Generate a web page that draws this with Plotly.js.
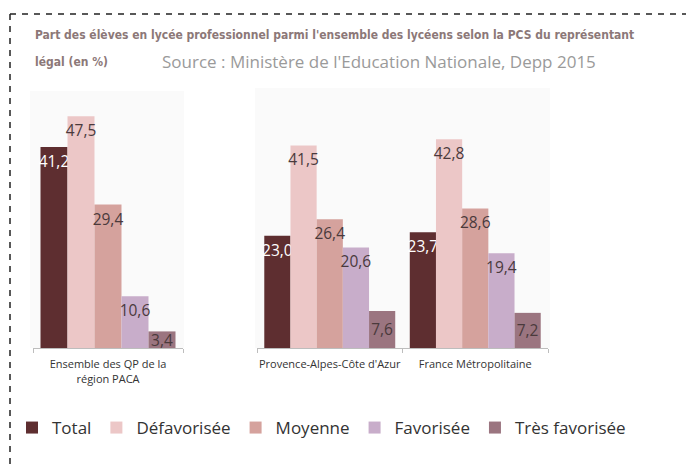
<!DOCTYPE html>
<html>
<head>
<meta charset="utf-8">
<script src="https://cdn.plot.ly/plotly-3.0.1.min.js"></script>
<style>
html,body{margin:0;padding:0;background:#fff;}
#chart{width:686px;height:469px;}
</style>
</head>
<body>
<div id="chart"></div>
<script>
// ---- data ----
const categoriesLeft = ["Ensemble des QP de la<br>région PACA"];
const categoriesRight = ["Provence-Alpes-Côte d'Azur", "France Métropolitaine"];
const seriesNames = ["Total", "Défavorisée", "Moyenne", "Favorisée", "Très favorisée"];
const totalVals = [41.2, 23.0, 23.7];
const defavoriseeVals = [47.5, 41.5, 42.8];
const moyenneVals = [29.4, 26.4, 28.6];
const favoriseeVals = [10.6, 20.6, 19.4];
const tresFavoriseeVals = [3.4, 7.6, 7.2];
const titleLine1 = "Part des élèves en lycée professionnel parmi l'ensemble des lycéens selon la PCS du représentant";
const titleLine2 = "légal (en %)";
const sourceText = "Source : Ministère de l'Education Nationale, Depp 2015";

// ---- styles ----
const colors = ["#5e2e30", "#ecc7c7", "#d5a29d", "#c8adca", "#9b7580"];
const labelColors = ["#ffffff", "#4a3a3c", "#4a3a3c", "#4a3a3c", "#4a3a3c"];
const labelAnchors = ["end", "end", "end", "end", "middle"];
const allVals = [totalVals, defavoriseeVals, moyenneVals, favoriseeVals, tresFavoriseeVals];
const fmt = v => v.toFixed(1).replace('.', ',');

const W = 686, plotTop = 88, plotBottom = 348, plotH = plotBottom - plotTop;
const px = x => x / W;
const py = y => (plotBottom - y) / plotH;

const traces = [];
seriesNames.forEach((name, i) => {
  const leftY = [allVals[i][0]];
  const rightY = allVals[i].slice(1);
  const common = {
    type: 'bar', name: name, legendgroup: name,
    marker: {color: colors[i]},
    textposition: 'inside', insidetextanchor: labelAnchors[i], textangle: 0,
    constraintext: 'none', cliponaxis: false,
    textfont: {family: 'Open Sans', size: 15.5, color: labelColors[i]},
    hoverinfo: 'skip'
  };
  traces.push(Object.assign({}, common, {
    x: categoriesLeft, y: leftY, text: leftY.map(fmt),
    xaxis: 'x', yaxis: 'y', showlegend: true
  }));
  traces.push(Object.assign({}, common, {
    x: categoriesRight, y: rightY, text: rightY.map(fmt),
    xaxis: 'x2', yaxis: 'y2', showlegend: false
  }));
});

const xaxisStyle = {
  type: 'category', showgrid: false, zeroline: false,
  showline: true, linecolor: '#bdbdbd', linewidth: 1,
  ticks: 'outside', tickson: 'boundaries', ticklen: 4, tickcolor: '#bdbdbd',
  tickangle: 0, automargin: false, ticklabelstandoff: 6,
  tickfont: {family: 'Open Sans', size: 11, color: '#333'}, fixedrange: true
};
const yaxisStyle = {visible: false, range: [0, plotH / 4.88], fixedrange: true};

const layout = {
  width: 686, height: 469,
  margin: {l: 0, r: 0, t: plotTop, b: 469 - plotBottom},
  paper_bgcolor: '#ffffff', plot_bgcolor: 'rgba(0,0,0,0)',
  barmode: 'group', bargap: 0.1, bargroupgap: 0,
  xaxis: Object.assign({}, xaxisStyle, {domain: [px(33), px(183)], anchor: 'y'}),
  yaxis: Object.assign({}, yaxisStyle, {anchor: 'x'}),
  xaxis2: Object.assign({}, xaxisStyle, {domain: [px(257), px(548)], anchor: 'y2'}),
  yaxis2: Object.assign({}, yaxisStyle, {anchor: 'x2'}),
  showlegend: true,
  legend: {
    orientation: 'h', x: px(12), xanchor: 'left', y: py(428), yanchor: 'middle',
    font: {family: 'Open Sans', size: 17, color: '#333'},
    traceorder: 'normal', bgcolor: 'rgba(0,0,0,0)'
  },
  shapes: [
    {type: 'rect', xref: 'paper', yref: 'paper', x0: px(30), x1: px(184), y0: 0, y1: py(91),
     fillcolor: '#fafafa', line: {width: 0}, layer: 'below'},
    {type: 'rect', xref: 'paper', yref: 'paper', x0: px(255), x1: px(550), y0: 0, y1: py(88),
     fillcolor: '#fafafa', line: {width: 0}, layer: 'below'},
    {type: 'line', xref: 'paper', yref: 'paper', x0: px(10), x1: px(700), y0: py(14), y1: py(14),
     line: {color: '#222', width: 1.5, dash: '6px,6px'}},
    {type: 'line', xref: 'paper', yref: 'paper', x0: px(10), x1: px(10), y0: py(14), y1: py(480),
     line: {color: '#222', width: 1.5, dash: '6px,6px'}}
  ],
  annotations: [
    {xref: 'paper', yref: 'paper', x: px(33), y: py(35), xanchor: 'left', yanchor: 'middle',
     showarrow: false, text: titleLine1,
     font: {family: 'DejaVu Sans Condensed', size: 12, color: '#8c7878', weight: 'bold'}},
    {xref: 'paper', yref: 'paper', x: px(33), y: py(62), xanchor: 'left', yanchor: 'middle',
     showarrow: false, text: titleLine2,
     font: {family: 'DejaVu Sans Condensed', size: 12, color: '#8c7878', weight: 'bold'}},
    {xref: 'paper', yref: 'paper', x: px(160), y: py(62), xanchor: 'left', yanchor: 'middle',
     showarrow: false, text: sourceText,
     font: {family: 'Open Sans', size: 17, color: '#9a9a9a'}}
  ]
};

Plotly.newPlot('chart', traces, layout, {displayModeBar: false, staticPlot: true});
</script>
</body>
</html>
